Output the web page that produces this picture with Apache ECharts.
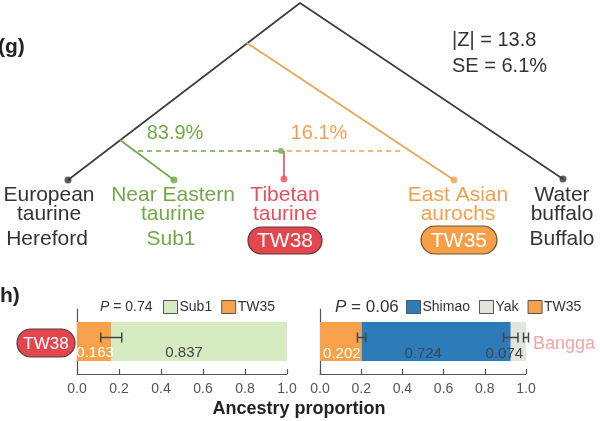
<!DOCTYPE html>
<html><head><meta charset="utf-8">
<script src="https://cdn.jsdelivr.net/npm/echarts@6/dist/echarts.min.js"></script>
<style>html,body{margin:0;padding:0;background:#fff}#c{width:600px;height:421px}</style>
</head><body><div id="c"></div>
<script>
// ---------- Panel (g): admixture graph ----------
const leafLine1 = ['European', 'Near Eastern', 'Tibetan', 'East Asian', 'Water'];
const leafLine2 = ['taurine', 'taurine', 'taurine', 'aurochs', 'buffalo'];
const leafSample = ['Hereford', 'Sub1', 'TW38', 'TW35', 'Buffalo'];
const admixPct = ['83.9%', '16.1%'];
const statZ = '|Z| = 13.8';
const statSE = 'SE = 6.1%';
// graph node coordinates (diagram units)
const branchMain = [[68, 180], [300, 3], [563, 179]];
const branchNE = [[120, 140], [174, 180]];
const branchEA = [[247, 43], [454, 180]];
const admixGreen = [[138, 151], [281, 151]];
const admixOrange = [[287, 151], [404, 151]];
const branchTib = [[284, 151], [284, 179]];
const leafDots = [[68, 180], [174, 180], [284, 179], [454, 180], [563, 179]];

// ---------- Panel (h): ancestry proportions ----------
const rowCat = ['TW38'];
const leftTW35 = [0.163];
const leftSub1 = [0.837];
const leftErr = [[0.163, 0.05]];
const rightTW35 = [0.202];
const rightShimao = [0.724];
const rightYak = [0.074];
const rightErr = [[0.202, 0.02], [0.926, 0.035], [1.0, 0.012]];
const pLeft = '0.74', pRight = '0.06';
const xTickLabels = ['0.0', '0.2', '0.4', '0.6', '0.8', '1.0'];

const FONT = 'Liberation Sans, Arial, sans-serif';
const C_DARK = '#333', C_GREEN = '#72a847', C_RED = '#e3505a', C_ORANGE = '#f3a04e';
const C_BAR_OR = '#f7a24b', C_BAR_GR = '#d7ebc3', C_BAR_BL = '#2e7bb9', C_BAR_YK = '#e2e5dc';

const chart = echarts.init(document.getElementById('c'), null, {renderer: 'canvas'});

function lineSeries(data, color, dashed) {
  return {type: 'line', xAxisIndex: 0, yAxisIndex: 0, data: data, symbol: 'none', silent: true,
    lineStyle: {color: color, width: 1.6, type: dashed ? [5, 4] : 'solid'}, z: 2, animation: false};
}
function errRender(params, api) {
  const c = api.value(0), e = api.value(2);
  const p1 = api.coord([c - e, 0]), p2 = api.coord([c + e, 0]);
  const y = p1[1] - 4, h = 5;
  const st = {stroke: '#444', lineWidth: 1.5};
  return {type: 'group', children: [
    {type: 'line', shape: {x1: p1[0], y1: y, x2: p2[0], y2: y}, style: st},
    {type: 'line', shape: {x1: p1[0], y1: y - h, x2: p1[0], y2: y + h}, style: st},
    {type: 'line', shape: {x1: p2[0], y1: y - h, x2: p2[0], y2: y + h}, style: st}
  ]};
}
function valueAxis(gi) {
  return {type: 'value', gridIndex: gi, min: 0, max: 1, interval: 0.2,
    axisLine: {show: true, lineStyle: {color: '#555', width: 1.2}},
    axisTick: {show: true, inside: true, length: 5, lineStyle: {color: '#555', width: 1.2}},
    splitLine: {show: false},
    axisLabel: {color: '#555', fontSize: 14, fontFamily: FONT, margin: 8,
      formatter: v => xTickLabels[Math.round(v / 0.2)]}};
}
function catAxis(gi) {
  return {type: 'category', gridIndex: gi, data: rowCat,
    axisLine: {show: true, lineStyle: {color: '#555', width: 1.2}},
    axisTick: {show: false}, axisLabel: {show: false}};
}
function barLabel(color, offset) {
  return {show: true, position: 'inside', offset: offset, color: color, fontSize: 15, fontFamily: FONT,
    formatter: p => p.value.toFixed(3)};
}

const T = (text, x, y, color, size, extra) => ({type: 'text', silent: true,
  style: Object.assign({text: text, x: x, y: y, fill: color, fontSize: size, fontFamily: FONT,
    align: 'center', verticalAlign: 'middle'}, extra || {})});
const leafX = [49, 173, 285, 458, 562];
const leafCol = [C_DARK, C_GREEN, C_RED, C_ORANGE, C_DARK];
const graphics = [];
graphics.push(T('(g)', -2, 47, '#222', 21, {align: 'left', fontWeight: 'bold'}));
graphics.push(T('h)', 0, 296, '#222', 21, {align: 'left', fontWeight: 'bold'}));
graphics.push(T(statZ, 452, 40, C_DARK, 20, {align: 'left'}));
graphics.push(T(statSE, 452, 66, C_DARK, 20, {align: 'left'}));
graphics.push(T(admixPct[0], 175, 133, C_GREEN, 20));
graphics.push(T(admixPct[1], 319, 133, C_ORANGE, 20));
for (let i = 0; i < 5; i++) {
  graphics.push(T(leafLine1[i], leafX[i], 195, leafCol[i], 21));
  graphics.push(T(leafLine2[i], leafX[i], 214, leafCol[i], 21));
}
graphics.push(T(leafSample[0], 47, 239, C_DARK, 21));
graphics.push(T(leafSample[1], 171, 239, C_GREEN, 21));
graphics.push(T(leafSample[4], 562, 239, C_DARK, 21));
// pills
graphics.push({type: 'rect', shape: {x: 248, y: 227, width: 74, height: 27, r: 13.5},
  style: {fill: '#e2474f', stroke: '#5a3a3a', lineWidth: 1.2}});
graphics.push(T(leafSample[2], 285, 241, '#fff', 21));
graphics.push({type: 'rect', shape: {x: 421, y: 226, width: 76, height: 28, r: 14},
  style: {fill: '#f5a048', stroke: '#6a5030', lineWidth: 1.2}});
graphics.push(T(leafSample[3], 459, 241, '#fff', 21));
graphics.push({type: 'rect', shape: {x: 17, y: 329, width: 58, height: 28, r: 14},
  style: {fill: '#e2474f', stroke: '#5a3a3a', lineWidth: 1.2}});
graphics.push(T(rowCat[0], 46, 344, '#fff', 17));
graphics.push(T('Bangga', 533, 344, '#f2a6a6', 18, {align: 'left'}));
graphics.push(T('Ancestry proportion', 299, 409, '#222', 18, {fontWeight: 'bold'}));
graphics.push({type: 'text', silent: true, style: {text: '{i|P} = ' + pLeft, x: 100, y: 307,
  verticalAlign: 'middle', fill: '#333', fontSize: 14, fontFamily: FONT,
  rich: {i: {fontStyle: 'italic', fontSize: 14, fontFamily: FONT, fill: '#333'}}}});
graphics.push({type: 'text', silent: true, style: {text: '{i|P} = ' + pRight, x: 335, y: 307,
  verticalAlign: 'middle', fill: '#333', fontSize: 17, fontFamily: FONT,
  rich: {i: {fontStyle: 'italic', fontSize: 17, fontFamily: FONT, fill: '#333'}}}});

const dotColors = [C_DARK, C_GREEN, C_RED, C_ORANGE, C_DARK];
const legendCommon = {itemWidth: 14, itemHeight: 13, itemGap: 9, icon: 'rect', padding: 0,
  selectedMode: false, itemStyle: {borderColor: '#555', borderWidth: 1},
  textStyle: {fontSize: 14, fontFamily: FONT, color: '#333', padding: [0, 0, 0, -3]}};

chart.setOption({
  animation: false,
  backgroundColor: '#fff',
  grid: [
    {left: 0, top: 0, width: 600, height: 421},
    {left: 77, top: 309, width: 210, height: 65},
    {left: 320, top: 309, width: 206, height: 65}
  ],
  xAxis: [
    {type: 'value', gridIndex: 0, min: 0, max: 600, show: false},
    valueAxis(1), valueAxis(2)
  ],
  yAxis: [
    {type: 'value', gridIndex: 0, min: 0, max: 421, inverse: true, show: false},
    catAxis(1), catAxis(2)
  ],
  legend: [
    Object.assign({left: 163, top: 300, data: ['Sub1', 'TW35']}, legendCommon),
    Object.assign({left: 406, top: 300, data: ['Shimao', 'Yak', 'TW35']}, legendCommon)
  ],
  graphic: graphics,
  series: [
    lineSeries(branchMain, '#3a3a3a'),
    lineSeries(branchNE, C_GREEN),
    lineSeries(branchEA, C_ORANGE),
    lineSeries(admixGreen, C_GREEN, true),
    lineSeries(admixOrange, C_ORANGE, true),
    lineSeries(branchTib, C_RED),
    {type: 'scatter', xAxisIndex: 0, yAxisIndex: 0, symbolSize: 7, silent: true, z: 3,
      data: leafDots.map((d, i) => ({value: d, itemStyle: {color: dotColors[i]}}))},
    {type: 'scatter', xAxisIndex: 0, yAxisIndex: 0, symbolSize: 6, silent: true, z: 3,
      data: [{value: admixGreen[1], itemStyle: {color: C_GREEN}}]},
    // left bars
    {name: 'TW35', type: 'bar', stack: 'L', xAxisIndex: 1, yAxisIndex: 1, barWidth: 39,
      data: leftTW35, itemStyle: {color: C_BAR_OR}, label: barLabel('#fff', [1, 11])},
    {name: 'Sub1', type: 'bar', stack: 'L', xAxisIndex: 1, yAxisIndex: 1, barWidth: 39,
      data: leftSub1, itemStyle: {color: C_BAR_GR}, label: barLabel('#444', [-15, 11])},
    {type: 'custom', xAxisIndex: 1, yAxisIndex: 1, renderItem: errRender, z: 5,
      encode: {x: 0, y: 1}, data: leftErr.map(d => [d[0], 0, d[1]])},
    // right bars
    {name: 'TW35', type: 'bar', stack: 'R', xAxisIndex: 2, yAxisIndex: 2, barWidth: 39,
      data: rightTW35, itemStyle: {color: C_BAR_OR}, label: barLabel('#fff', [1, 12])},
    {name: 'Shimao', type: 'bar', stack: 'R', xAxisIndex: 2, yAxisIndex: 2, barWidth: 39,
      data: rightShimao, itemStyle: {color: C_BAR_BL}, label: barLabel('#34475a', [-13, 12])},
    {name: 'Yak', type: 'bar', stack: 'R', xAxisIndex: 2, yAxisIndex: 2, barWidth: 39,
      data: rightYak, itemStyle: {color: C_BAR_YK}, label: barLabel('#444', [-14, 12])},
    {type: 'custom', xAxisIndex: 2, yAxisIndex: 2, renderItem: errRender, z: 5,
      encode: {x: 0, y: 1}, data: rightErr.map(d => [d[0], 0, d[1]])}
  ]
});
</script></body></html>
